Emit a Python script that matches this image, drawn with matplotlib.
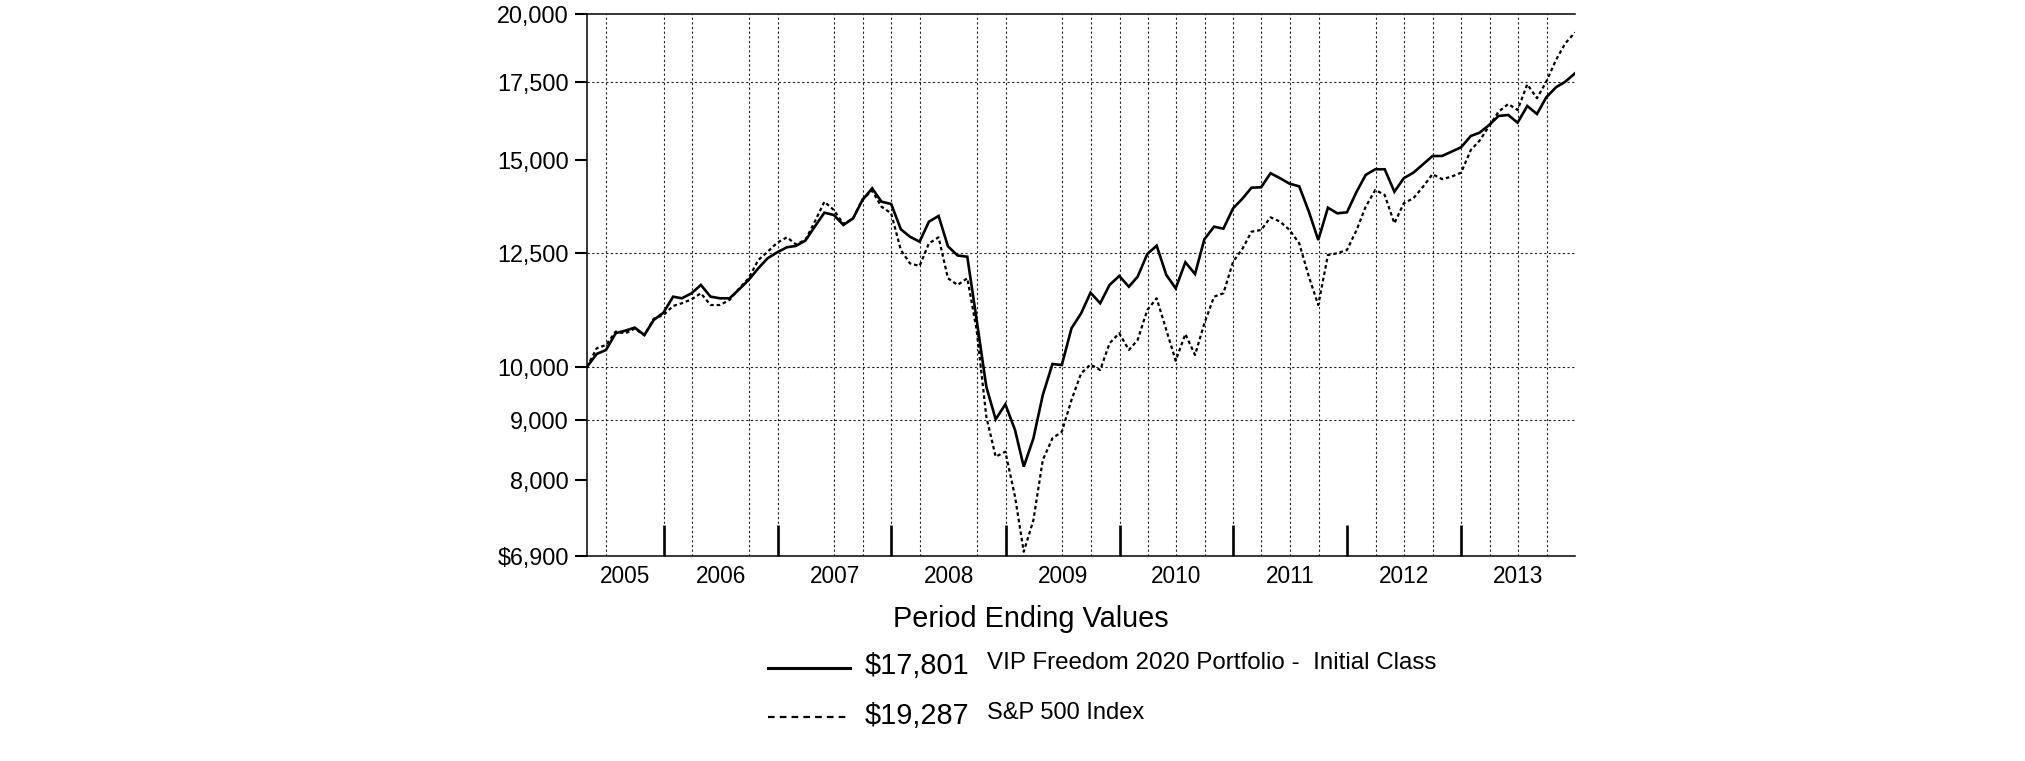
import numpy as np
import pandas as pd
import matplotlib
matplotlib.use("Agg")
import matplotlib.pyplot as plt
import matplotlib.dates as mdates
from matplotlib.lines import Line2D
from matplotlib.ticker import FixedLocator, NullLocator, FixedFormatter
from matplotlib.transforms import blended_transform_factory

plt.rcParams['font.family'] = ['Liberation Sans', 'DejaVu Sans']

# ---------------- data ----------------
dates = pd.date_range('2005-04-30', '2013-12-31', freq=pd.offsets.MonthEnd())

fund = [10000, 10256, 10337, 10683, 10737, 10800, 10645, 10965, 11122, 11478,
        11441, 11554, 11745, 11478, 11441, 11441, 11645, 11860, 12135, 12378,
        12524, 12648, 12680, 12813, 13170, 13537, 13475, 13214, 13387, 13878,
        14201, 13832, 13770, 13103, 12913, 12787, 13299, 13450, 12670, 12445,
        12415, 10965, 9617, 9020, 9290, 8833, 8219, 8690, 9461, 10055,
        10036, 10787, 11109, 11568, 11330, 11745, 11954, 11705, 11937, 12481,
        12687, 11977, 11668, 12280, 12001, 12848, 13170, 13118, 13653, 13925,
        14218, 14230, 14627, 14484, 14330, 14256, 13562, 12829, 13670, 13520,
        13547, 14106, 14578, 14742, 14742, 14106, 14484, 14644, 14887, 15130,
        15132, 15260, 15393, 15738, 15840, 16083, 16370, 16401, 16155, 16694,
        16433, 16981, 17318, 17510, 17801]

sp500 = [10000, 10371, 10438, 10717, 10680, 10780, 10640, 10990, 11072, 11270,
         11330, 11418, 11554, 11291, 11291, 11403, 11668, 11900, 12334, 12538,
         12762, 12898, 12722, 12829, 13299, 13832, 13609, 13239, 13387, 13897,
         14135, 13696, 13520, 12580, 12254, 12190, 12746, 12898, 11900, 11745,
         11900, 10750, 9067, 8381, 8464, 7748, 6954, 7401, 8328, 8690,
         8803, 9369, 9873, 10045, 9937, 10473, 10683, 10337, 10541, 11181,
         11441, 10750, 10121, 10666, 10235, 10893, 11478, 11554, 12294, 12623,
         13040, 13084, 13414, 13299, 13084, 12746, 11937, 11291, 12457, 12499,
         12580, 13084, 13696, 14155, 14016, 13257, 13788, 13925, 14246, 14600,
         14460, 14529, 14644, 15311, 15593, 16050, 16508, 16759, 16562, 17420,
         16950, 17510, 18273, 18883, 19287]

y_ticks = [6900, 8000, 9000, 10000, 12500, 15000, 17500, 20000]
y_tick_labels = ['$6,900', '8,000', '9,000', '10,000', '12,500', '15,000', '17,500', '20,000']
h_grid_values = [9000, 10000, 12500, 17500]
years = list(range(2005, 2014))
year_boundaries = ['%d-01-01' % y for y in range(2006, 2014)]
v_grid_dates = ['2005-07-01', '2006-01-01', '2006-04-01', '2006-10-01', '2007-01-01',
                '2007-07-01', '2007-10-01', '2008-01-01', '2008-04-01', '2008-10-01',
                '2009-01-01', '2009-07-01', '2009-10-01', '2010-01-01', '2010-04-01',
                '2010-07-01', '2010-10-01', '2011-01-01', '2011-04-01', '2011-07-01',
                '2011-10-01', '2012-04-01', '2012-07-01', '2012-10-01', '2013-01-01',
                '2013-04-01', '2013-07-01', '2013-10-01']
title = 'Period Ending Values'
series_names = ['VIP Freedom 2020 Portfolio -  Initial Class', 'S&P 500 Index']
series_end_labels = ['$17,801', '$19,287']

# ---------------- figure ----------------
W, H = 2025, 761
fig = plt.figure(figsize=(W / 100, H / 100), dpi=100)
fig.patch.set_facecolor('white')

def fx(px):
    return px / W

def fy(py):
    return 1 - py / H

ax_left, ax_right, ax_top, ax_bot = 587, 1575, 14, 555.7
ax = fig.add_axes([fx(ax_left), fy(ax_bot), (ax_right - ax_left) / W, (ax_bot - ax_top) / H])

xnum = mdates.date2num(dates)
ax.set_yscale('log')
ax.set_ylim(6900, 20000)
ax.set_xlim(xnum[0], xnum[-1])

grid_kw = dict(color='#222222', lw=0.8, linestyle=(0, (2, 2.2)), zorder=1)
for v in h_grid_values:
    ax.axhline(v, **grid_kw)
for d in v_grid_dates:
    ax.axvline(mdates.date2num(pd.Timestamp(d)), **grid_kw)

ax.plot(xnum, sp500, color='black', lw=1.6, linestyle=(0, (1.6, 1.3)), zorder=3)
ax.plot(xnum, fund, color='black', lw=1.9, solid_joinstyle='miter', zorder=4)

# y axis
ax.yaxis.set_major_locator(FixedLocator(y_ticks))
ax.yaxis.set_major_formatter(FixedFormatter(y_tick_labels))
ax.yaxis.set_minor_locator(NullLocator())
ax.tick_params(axis='y', direction='out', length=9, width=1.5, pad=4, labelsize=16.8,
               colors='black')

# x axis: year boundary ticks pointing inward, no labels
xb = [mdates.date2num(pd.Timestamp(d)) for d in year_boundaries]
ax.xaxis.set_major_locator(FixedLocator(xb))
ax.xaxis.set_minor_locator(NullLocator())
ax.tick_params(axis='x', direction='in', length=22, width=1.9, labelbottom=False)

for s in ['left', 'bottom', 'top']:
    ax.spines[s].set_linewidth(1.1)
    ax.spines[s].set_color('black')
ax.spines['right'].set_visible(False)

# year labels centred in the visible part of each year
trans = blended_transform_factory(ax.transData, ax.transAxes)
for yr in years:
    a = max(mdates.date2num(pd.Timestamp('%d-01-01' % yr)), xnum[0])
    b = min(mdates.date2num(pd.Timestamp('%d-01-01' % (yr + 1))), xnum[-1])
    ax.text((a + b) / 2, -27 / (ax_bot - ax_top), str(yr), transform=trans,
            ha='center', va='baseline', fontsize=16.3)

# ---------------- legend block ----------------
fig.text(fx(1031), fy(627.3), title, ha='center', va='baseline', fontsize=20.8)

fig.add_artist(Line2D([fx(768), fx(850)], [fy(668.3), fy(668.3)], color='black', lw=2.2,
                      transform=fig.transFigure))
fig.add_artist(Line2D([fx(768), fx(850)], [fy(716.7), fy(716.7)], color='black', lw=1.6,
                      linestyle=(0, (3.0, 2.3)), transform=fig.transFigure))

fig.text(fx(865), fy(674), series_end_labels[0], ha='left', va='baseline', fontsize=20.8)
fig.text(fx(865), fy(724), series_end_labels[1], ha='left', va='baseline', fontsize=20.8)
fig.text(fx(987), fy(669), series_names[0], ha='left', va='baseline', fontsize=17.4)
fig.text(fx(987), fy(719.3), series_names[1], ha='left', va='baseline', fontsize=17.0)

fig.savefig('out.png', dpi=100, facecolor='white')
